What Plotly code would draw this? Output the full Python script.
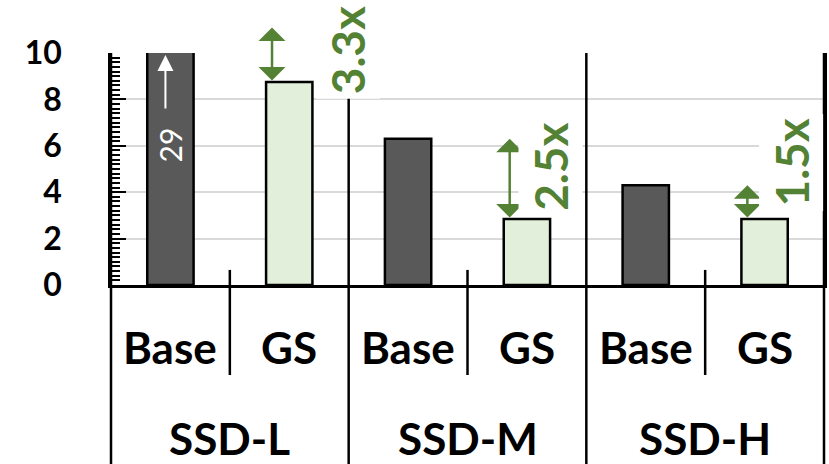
import plotly.graph_objects as go

# ---- data -------------------------------------------------------------
groups = ["SSD-L", "SSD-M", "SSD-H"]
systems = ["Base", "GS"]
base_values = [29, 6.3, 4.3]
gs_values = [8.75, 2.85, 2.85]
speedup_labels = ["3.3x", "2.5x", "1.5x"]
y_ticks = [0, 2, 4, 6, 8, 10]

# ---- style ------------------------------------------------------------
DARK = "#595959"
LIGHT = "#E2EFDA"
GREEN = "#548235"
GRID = "#D9D9D9"
FONT = "Lato"
Y_MAX = 10
ARROW_CAP = 11.1          # off-scale bars: arrow stops just above the frame
ARROW_DX = -0.145         # arrows sit slightly left of the GS bar centre
# (x shift in px from the GS bar, y centre in data units) for each ratio label
LABEL_SPOTS = [(59, 10.13), (24, 5.09), (27, 5.26)]

categories, values, colors = [], [], []
for g, b, s in zip(groups, base_values, gs_values):
    for name, v, c in zip(systems, (b, s), (DARK, LIGHT)):
        categories.append(f"{g} {name}")
        values.append(v)
        colors.append(c)

fig = go.Figure(
    go.Bar(
        x=categories,
        y=values,
        width=0.39,
        marker=dict(color=colors, line=dict(color="black", width=2.5)),
        hoverinfo="skip",
    )
)

annotations = []
shapes = []

# category labels under each bar and group labels below them
for i, cat in enumerate(categories):
    annotations.append(dict(
        x=i, y=-0.267, xref="x", yref="paper", text=cat.split(" ")[1],
        showarrow=False, xanchor="center", yanchor="middle",
        font=dict(family=FONT, size=44, color="black", weight=700),
    ))
for gi, g in enumerate(groups):
    annotations.append(dict(
        x=2 * gi + 0.5, y=-0.66, xref="x", yref="paper", text=g,
        showarrow=False, xanchor="center", yanchor="middle",
        font=dict(family=FONT, size=44, color="black", weight=700),
    ))

# value of the off-scale bar, written inside it with an upward arrow
off_idx = 0
annotations.append(dict(
    x=off_idx, y=6.03, xref="x", yref="y", text=str(base_values[0]),
    showarrow=False, textangle=-90, xanchor="center", yanchor="middle",
    font=dict(family=FONT, size=30, color="white", weight=400),
))
annotations.append(dict(
    x=off_idx - 0.042, y=9.91, ax=off_idx - 0.042, ay=7.54,
    xref="x", yref="y", axref="x", ayref="y", text="",
    showarrow=True, arrowhead=2, arrowsize=1.6, arrowwidth=2,
    arrowcolor="white", standoff=0, startstandoff=0,
    font=dict(size=1),
))

# double-headed gap arrows and speed-up labels
for gi, (b, s, lab) in enumerate(zip(base_values, gs_values, speedup_labels)):
    gs_idx = 2 * gi + 1
    top = min(b, ARROW_CAP)
    annotations.append(dict(
        x=gs_idx + ARROW_DX, y=top, ax=gs_idx + ARROW_DX, ay=s,
        xref="x", yref="y", axref="x", ayref="y", text="",
        showarrow=True, arrowside="end+start",
        arrowhead=1, startarrowhead=1, arrowsize=1.8, startarrowsize=1.8,
        arrowwidth=2.5, arrowcolor=GREEN, standoff=0, startstandoff=0,
        font=dict(size=1),
    ))
    dx, yc = LABEL_SPOTS[gi]
    # paper coordinates so a label above the frame is still drawn
    annotations.append(dict(
        x=gs_idx, y=yc / Y_MAX, xref="x", yref="paper", xshift=dx, text=lab,
        showarrow=False, textangle=-90, xanchor="center", yanchor="middle",
        bgcolor="white", borderpad=4,
        font=dict(family=FONT, size=46, color=GREEN, weight=700),
    ))

# frame lines running through the label area
LINE = dict(color="black", width=2.5)
for k in range(4):   # group boundaries, full height
    shapes.append(dict(type="line", xref="x domain", yref="paper",
                       x0=k / 3, x1=k / 3, y0=-0.8, y1=1, line=LINE))
for k in (1, 3, 5):  # boundaries between Base and GS
    shapes.append(dict(type="line", xref="x domain", yref="paper",
                       x0=k / 6, x1=k / 6, y0=0.065, y1=-0.388, line=LINE))

fig.update_layout(
    width=829, height=464,
    margin=dict(l=111, r=2, t=53, b=179, pad=0),
    paper_bgcolor="white", plot_bgcolor="white",
    showlegend=False,
    annotations=annotations,
    shapes=shapes,
    xaxis=dict(
        range=[-0.5, len(categories) - 0.5],
        showticklabels=False, ticks="", showgrid=False, zeroline=False,
        showline=True, linecolor="black", linewidth=2.5,
        fixedrange=True,
    ),
    yaxis=dict(
        range=[0, Y_MAX], tickvals=y_ticks,
        ticks="inside", ticklen=15, tickwidth=2, tickcolor="black",
        ticklabelstandoff=40,
        tickfont=dict(family=FONT, size=32, color="black", weight=700),
        showline=True, linecolor="black", linewidth=2.5, mirror=True,
        showgrid=True, gridcolor=GRID, gridwidth=1.5, zeroline=False,
        minor=dict(dtick=0.2, ticks="inside", ticklen=9, tickwidth=2,
                   tickcolor="black", showgrid=False),
        fixedrange=True,
    ),
)

fig.write_html("out.html")
